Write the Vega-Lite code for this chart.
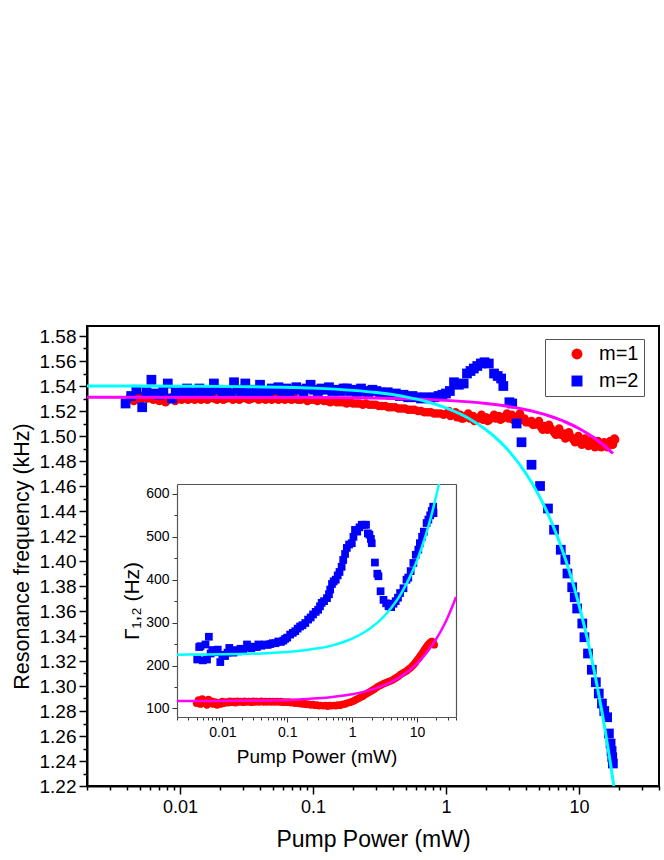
{
  "$schema": "https://vega.github.io/schema/vega-lite/v6.json",
  "width": 572,
  "height": 460,
  "autosize": "none",
  "padding": {"left": 87, "top": 326, "right": 5, "bottom": 74},
  "background": "white",
  "config": {
    "font": "Liberation Sans",
    "view": {"stroke": "#000000", "strokeWidth": 2},
    "axis": {"labelFont": "Liberation Sans", "titleFont": "Liberation Sans", "labelColor": "#000000", "titleColor": "#000000", "grid": false, "titleFontWeight": "normal"}
  },
  "datasets": {
    "main_pts": [
      {"x":0.0042,"y":1.531,"mode":"m=1"},{"x":0.0045,"y":1.528,"mode":"m=1"},{"x":0.0048,"y":1.532,"mode":"m=1"},{"x":0.0051,"y":1.529,"mode":"m=1"},{"x":0.0054,"y":1.533,"mode":"m=1"},{"x":0.0057,"y":1.53,"mode":"m=1"},{"x":0.006,"y":1.534,"mode":"m=1"},{"x":0.0063,"y":1.529,"mode":"m=1"},{"x":0.0066,"y":1.532,"mode":"m=1"},{"x":0.007,"y":1.528,"mode":"m=1"},{"x":0.0074,"y":1.53,"mode":"m=1"},{"x":0.0078,"y":1.527,"mode":"m=1"},{"x":0.0082,"y":1.529,"mode":"m=1"},{"x":0.0087,"y":1.531,"mode":"m=1"},{"x":0.0092,"y":1.528,"mode":"m=1"},{"x":0.0097,"y":1.53,"mode":"m=1"},{"x":0.0103,"y":1.529,"mode":"m=1"},{"x":0.0109,"y":1.531,"mode":"m=1"},{"x":0.0115,"y":1.529,"mode":"m=1"},{"x":0.0122,"y":1.53,"mode":"m=1"},{"x":0.0129,"y":1.529,"mode":"m=1"},{"x":0.0136,"y":1.531,"mode":"m=1"},{"x":0.0144,"y":1.529,"mode":"m=1"},{"x":0.0152,"y":1.53,"mode":"m=1"},{"x":0.0161,"y":1.529,"mode":"m=1"},{"x":0.017,"y":1.531,"mode":"m=1"},{"x":0.018,"y":1.53,"mode":"m=1"},{"x":0.019,"y":1.529,"mode":"m=1"},{"x":0.02,"y":1.531,"mode":"m=1"},{"x":0.0212,"y":1.529,"mode":"m=1"},{"x":0.0224,"y":1.53,"mode":"m=1"},{"x":0.0237,"y":1.531,"mode":"m=1"},{"x":0.025,"y":1.529,"mode":"m=1"},{"x":0.0265,"y":1.53,"mode":"m=1"},{"x":0.028,"y":1.529,"mode":"m=1"},{"x":0.0296,"y":1.531,"mode":"m=1"},{"x":0.0313,"y":1.53,"mode":"m=1"},{"x":0.033,"y":1.529,"mode":"m=1"},{"x":0.035,"y":1.53,"mode":"m=1"},{"x":0.037,"y":1.531,"mode":"m=1"},{"x":0.039,"y":1.529,"mode":"m=1"},{"x":0.0415,"y":1.53,"mode":"m=1"},{"x":0.044,"y":1.529,"mode":"m=1"},{"x":0.0465,"y":1.53,"mode":"m=1"},{"x":0.049,"y":1.529,"mode":"m=1"},{"x":0.052,"y":1.531,"mode":"m=1"},{"x":0.055,"y":1.529,"mode":"m=1"},{"x":0.058,"y":1.53,"mode":"m=1"},{"x":0.0615,"y":1.529,"mode":"m=1"},{"x":0.065,"y":1.53,"mode":"m=1"},{"x":0.069,"y":1.529,"mode":"m=1"},{"x":0.073,"y":1.53,"mode":"m=1"},{"x":0.077,"y":1.529,"mode":"m=1"},{"x":0.0815,"y":1.529,"mode":"m=1"},{"x":0.086,"y":1.53,"mode":"m=1"},{"x":0.091,"y":1.528,"mode":"m=1"},{"x":0.096,"y":1.529,"mode":"m=1"},{"x":0.102,"y":1.529,"mode":"m=1"},{"x":0.108,"y":1.528,"mode":"m=1"},{"x":0.114,"y":1.529,"mode":"m=1"},{"x":0.121,"y":1.528,"mode":"m=1"},{"x":0.128,"y":1.528,"mode":"m=1"},{"x":0.135,"y":1.527,"mode":"m=1"},{"x":0.143,"y":1.528,"mode":"m=1"},{"x":0.151,"y":1.527,"mode":"m=1"},{"x":0.16,"y":1.527,"mode":"m=1"},{"x":0.169,"y":1.527,"mode":"m=1"},{"x":0.179,"y":1.526,"mode":"m=1"},{"x":0.19,"y":1.527,"mode":"m=1"},{"x":0.2,"y":1.526,"mode":"m=1"},{"x":0.212,"y":1.526,"mode":"m=1"},{"x":0.224,"y":1.526,"mode":"m=1"},{"x":0.237,"y":1.525,"mode":"m=1"},{"x":0.25,"y":1.526,"mode":"m=1"},{"x":0.265,"y":1.525,"mode":"m=1"},{"x":0.28,"y":1.525,"mode":"m=1"},{"x":0.296,"y":1.525,"mode":"m=1"},{"x":0.313,"y":1.524,"mode":"m=1"},{"x":0.33,"y":1.524,"mode":"m=1"},{"x":0.35,"y":1.524,"mode":"m=1"},{"x":0.37,"y":1.523,"mode":"m=1"},{"x":0.39,"y":1.523,"mode":"m=1"},{"x":0.415,"y":1.523,"mode":"m=1"},{"x":0.44,"y":1.522,"mode":"m=1"},{"x":0.465,"y":1.522,"mode":"m=1"},{"x":0.49,"y":1.522,"mode":"m=1"},{"x":0.52,"y":1.521,"mode":"m=1"},{"x":0.55,"y":1.521,"mode":"m=1"},{"x":0.58,"y":1.521,"mode":"m=1"},{"x":0.615,"y":1.52,"mode":"m=1"},{"x":0.65,"y":1.52,"mode":"m=1"},{"x":0.69,"y":1.519,"mode":"m=1"},{"x":0.73,"y":1.519,"mode":"m=1"},{"x":0.77,"y":1.519,"mode":"m=1"},{"x":0.815,"y":1.518,"mode":"m=1"},{"x":0.86,"y":1.518,"mode":"m=1"},{"x":0.91,"y":1.518,"mode":"m=1"},{"x":0.96,"y":1.517,"mode":"m=1"},{"x":1.02,"y":1.518,"mode":"m=1"},{"x":1.08,"y":1.516,"mode":"m=1"},{"x":1.14,"y":1.517,"mode":"m=1"},{"x":1.21,"y":1.515,"mode":"m=1"},{"x":1.28,"y":1.517,"mode":"m=1"},{"x":1.35,"y":1.514,"mode":"m=1"},{"x":1.43,"y":1.516,"mode":"m=1"},{"x":1.51,"y":1.514,"mode":"m=1"},{"x":1.6,"y":1.516,"mode":"m=1"},{"x":1.69,"y":1.513,"mode":"m=1"},{"x":1.79,"y":1.515,"mode":"m=1"},{"x":1.9,"y":1.513,"mode":"m=1"},{"x":2.0,"y":1.515,"mode":"m=1"},{"x":2.12,"y":1.513,"mode":"m=1"},{"x":2.24,"y":1.515,"mode":"m=1"},{"x":2.37,"y":1.514,"mode":"m=1"},{"x":2.5,"y":1.516,"mode":"m=1"},{"x":2.65,"y":1.514,"mode":"m=1"},{"x":2.8,"y":1.516,"mode":"m=1"},{"x":2.96,"y":1.514,"mode":"m=1"},{"x":3.13,"y":1.517,"mode":"m=1"},{"x":3.3,"y":1.515,"mode":"m=1"},{"x":3.5,"y":1.516,"mode":"m=1"},{"x":3.7,"y":1.513,"mode":"m=1"},{"x":3.9,"y":1.514,"mode":"m=1"},{"x":4.15,"y":1.511,"mode":"m=1"},{"x":4.4,"y":1.512,"mode":"m=1"},{"x":4.65,"y":1.509,"mode":"m=1"},{"x":4.9,"y":1.51,"mode":"m=1"},{"x":5.2,"y":1.507,"mode":"m=1"},{"x":5.5,"y":1.508,"mode":"m=1"},{"x":5.8,"y":1.505,"mode":"m=1"},{"x":6.15,"y":1.506,"mode":"m=1"},{"x":6.5,"y":1.503,"mode":"m=1"},{"x":6.9,"y":1.504,"mode":"m=1"},{"x":7.3,"y":1.501,"mode":"m=1"},{"x":7.7,"y":1.502,"mode":"m=1"},{"x":8.15,"y":1.499,"mode":"m=1"},{"x":8.6,"y":1.5,"mode":"m=1"},{"x":9.1,"y":1.497,"mode":"m=1"},{"x":9.6,"y":1.498,"mode":"m=1"},{"x":10.2,"y":1.495,"mode":"m=1"},{"x":10.8,"y":1.496,"mode":"m=1"},{"x":11.4,"y":1.494,"mode":"m=1"},{"x":12.1,"y":1.495,"mode":"m=1"},{"x":12.8,"y":1.493,"mode":"m=1"},{"x":13.5,"y":1.494,"mode":"m=1"},{"x":14.3,"y":1.492,"mode":"m=1"},{"x":15.1,"y":1.493,"mode":"m=1"},{"x":16,"y":1.492,"mode":"m=1"},{"x":16.9,"y":1.494,"mode":"m=1"},{"x":17.5,"y":1.494,"mode":"m=1"},{"x":18.3,"y":1.496,"mode":"m=1"},{"x":18.7,"y":1.497,"mode":"m=1"},
      {"x":1.05,"y":1.52,"mode":"m=1"},{"x":1.18,"y":1.519,"mode":"m=1"},{"x":1.31,"y":1.514,"mode":"m=1"},{"x":1.47,"y":1.518,"mode":"m=1"},{"x":1.64,"y":1.512,"mode":"m=1"},{"x":1.85,"y":1.517,"mode":"m=1"},{"x":2.06,"y":1.512,"mode":"m=1"},{"x":2.3,"y":1.517,"mode":"m=1"},{"x":2.57,"y":1.513,"mode":"m=1"},{"x":2.88,"y":1.518,"mode":"m=1"},{"x":3.2,"y":1.513,"mode":"m=1"},{"x":3.6,"y":1.518,"mode":"m=1"},{"x":4.0,"y":1.511,"mode":"m=1"},{"x":4.5,"y":1.509,"mode":"m=1"},{"x":5.0,"y":1.512,"mode":"m=1"},{"x":5.35,"y":1.505,"mode":"m=1"},{"x":5.95,"y":1.509,"mode":"m=1"},{"x":6.7,"y":1.501,"mode":"m=1"},{"x":7.1,"y":1.506,"mode":"m=1"},{"x":7.9,"y":1.498,"mode":"m=1"},{"x":8.4,"y":1.503,"mode":"m=1"},{"x":9.35,"y":1.495,"mode":"m=1"},{"x":9.9,"y":1.5,"mode":"m=1"},{"x":10.5,"y":1.493,"mode":"m=1"},{"x":11.1,"y":1.498,"mode":"m=1"},{"x":11.8,"y":1.492,"mode":"m=1"},{"x":12.5,"y":1.497,"mode":"m=1"},{"x":13.2,"y":1.491,"mode":"m=1"},{"x":13.9,"y":1.496,"mode":"m=1"},{"x":14.7,"y":1.491,"mode":"m=1"},{"x":15.5,"y":1.495,"mode":"m=1"},{"x":16.4,"y":1.491,"mode":"m=1"},{"x":17.2,"y":1.496,"mode":"m=1"},{"x":18.0,"y":1.493,"mode":"m=1"},{"x":18.5,"y":1.498,"mode":"m=1"},
      {"x":0.0039,"y":1.526,"mode":"m=2"},{"x":0.0043,"y":1.532,"mode":"m=2"},{"x":0.0047,"y":1.537,"mode":"m=2"},{"x":0.0052,"y":1.523,"mode":"m=2"},{"x":0.0056,"y":1.535,"mode":"m=2"},{"x":0.0061,"y":1.545,"mode":"m=2"},{"x":0.0065,"y":1.534,"mode":"m=2"},{"x":0.007,"y":1.533,"mode":"m=2"},{"x":0.0075,"y":1.536,"mode":"m=2"},{"x":0.0081,"y":1.542,"mode":"m=2"},{"x":0.0087,"y":1.53,"mode":"m=2"},{"x":0.0093,"y":1.535,"mode":"m=2"},{"x":0.01,"y":1.534,"mode":"m=2"},{"x":0.0107,"y":1.536,"mode":"m=2"},{"x":0.0113,"y":1.538,"mode":"m=2"},{"x":0.0121,"y":1.535,"mode":"m=2"},{"x":0.013,"y":1.534,"mode":"m=2"},{"x":0.014,"y":1.538,"mode":"m=2"},{"x":0.015,"y":1.536,"mode":"m=2"},{"x":0.016,"y":1.534,"mode":"m=2"},{"x":0.017,"y":1.536,"mode":"m=2"},{"x":0.018,"y":1.542,"mode":"m=2"},{"x":0.0195,"y":1.537,"mode":"m=2"},{"x":0.021,"y":1.535,"mode":"m=2"},{"x":0.0225,"y":1.536,"mode":"m=2"},{"x":0.024,"y":1.534,"mode":"m=2"},{"x":0.0255,"y":1.543,"mode":"m=2"},{"x":0.027,"y":1.537,"mode":"m=2"},{"x":0.029,"y":1.536,"mode":"m=2"},{"x":0.031,"y":1.542,"mode":"m=2"},{"x":0.033,"y":1.535,"mode":"m=2"},{"x":0.035,"y":1.537,"mode":"m=2"},{"x":0.0375,"y":1.536,"mode":"m=2"},{"x":0.04,"y":1.541,"mode":"m=2"},{"x":0.043,"y":1.536,"mode":"m=2"},{"x":0.046,"y":1.535,"mode":"m=2"},{"x":0.049,"y":1.538,"mode":"m=2"},{"x":0.052,"y":1.537,"mode":"m=2"},{"x":0.055,"y":1.539,"mode":"m=2"},{"x":0.059,"y":1.536,"mode":"m=2"},{"x":0.063,"y":1.538,"mode":"m=2"},{"x":0.067,"y":1.536,"mode":"m=2"},{"x":0.071,"y":1.537,"mode":"m=2"},{"x":0.075,"y":1.539,"mode":"m=2"},{"x":0.08,"y":1.537,"mode":"m=2"},{"x":0.085,"y":1.536,"mode":"m=2"},{"x":0.09,"y":1.538,"mode":"m=2"},{"x":0.096,"y":1.541,"mode":"m=2"},{"x":0.102,"y":1.537,"mode":"m=2"},{"x":0.109,"y":1.536,"mode":"m=2"},{"x":0.116,"y":1.538,"mode":"m=2"},{"x":0.124,"y":1.537,"mode":"m=2"},{"x":0.132,"y":1.539,"mode":"m=2"},{"x":0.14,"y":1.536,"mode":"m=2"},{"x":0.15,"y":1.537,"mode":"m=2"},{"x":0.16,"y":1.536,"mode":"m=2"},{"x":0.17,"y":1.538,"mode":"m=2"},{"x":0.18,"y":1.538,"mode":"m=2"},{"x":0.19,"y":1.536,"mode":"m=2"},{"x":0.2,"y":1.537,"mode":"m=2"},{"x":0.215,"y":1.535,"mode":"m=2"},{"x":0.23,"y":1.538,"mode":"m=2"},{"x":0.245,"y":1.536,"mode":"m=2"},{"x":0.26,"y":1.535,"mode":"m=2"},{"x":0.28,"y":1.537,"mode":"m=2"},{"x":0.3,"y":1.536,"mode":"m=2"},{"x":0.32,"y":1.535,"mode":"m=2"},{"x":0.34,"y":1.534,"mode":"m=2"},{"x":0.365,"y":1.535,"mode":"m=2"},{"x":0.39,"y":1.533,"mode":"m=2"},{"x":0.42,"y":1.534,"mode":"m=2"},{"x":0.45,"y":1.532,"mode":"m=2"},{"x":0.48,"y":1.533,"mode":"m=2"},{"x":0.52,"y":1.531,"mode":"m=2"},{"x":0.56,"y":1.532,"mode":"m=2"},{"x":0.6,"y":1.531,"mode":"m=2"},{"x":0.65,"y":1.53,"mode":"m=2"},{"x":0.7,"y":1.531,"mode":"m=2"},{"x":0.76,"y":1.53,"mode":"m=2"},{"x":0.82,"y":1.531,"mode":"m=2"},{"x":0.88,"y":1.532,"mode":"m=2"},{"x":0.94,"y":1.533,"mode":"m=2"},{"x":1.0,"y":1.534,"mode":"m=2"},{"x":1.07,"y":1.536,"mode":"m=2"},{"x":1.15,"y":1.543,"mode":"m=2"},{"x":1.25,"y":1.541,"mode":"m=2"},{"x":1.36,"y":1.542,"mode":"m=2"},{"x":1.44,"y":1.55,"mode":"m=2"},{"x":1.53,"y":1.552,"mode":"m=2"},{"x":1.62,"y":1.554,"mode":"m=2"},{"x":1.72,"y":1.556,"mode":"m=2"},{"x":1.83,"y":1.558,"mode":"m=2"},{"x":1.95,"y":1.559,"mode":"m=2"},{"x":2.1,"y":1.558,"mode":"m=2"},{"x":2.3,"y":1.55,"mode":"m=2"},{"x":2.45,"y":1.548,"mode":"m=2"},{"x":2.6,"y":1.546,"mode":"m=2"},{"x":2.7,"y":1.54,"mode":"m=2"},{"x":3.0,"y":1.527,"mode":"m=2"},{"x":3.15,"y":1.526,"mode":"m=2"},{"x":3.4,"y":1.51,"mode":"m=2"},{"x":3.7,"y":1.495,"mode":"m=2"},{"x":4.4,"y":1.477,"mode":"m=2"},{"x":5.1,"y":1.46,"mode":"m=2"},{"x":5.85,"y":1.442,"mode":"m=2"},{"x":6.5,"y":1.425,"mode":"m=2"},{"x":7.3,"y":1.409,"mode":"m=2"},{"x":7.9,"y":1.401,"mode":"m=2"},{"x":8.2,"y":1.39,"mode":"m=2"},{"x":8.9,"y":1.379,"mode":"m=2"},{"x":9.3,"y":1.371,"mode":"m=2"},{"x":9.7,"y":1.362,"mode":"m=2"},{"x":10.6,"y":1.35,"mode":"m=2"},{"x":11.0,"y":1.339,"mode":"m=2"},{"x":11.7,"y":1.326,"mode":"m=2"},{"x":12.5,"y":1.313,"mode":"m=2"},{"x":13.4,"y":1.303,"mode":"m=2"},{"x":14.1,"y":1.294,"mode":"m=2"},{"x":14.9,"y":1.286,"mode":"m=2"},{"x":15.5,"y":1.28,"mode":"m=2"},{"x":16.3,"y":1.275,"mode":"m=2"},{"x":16.8,"y":1.262,"mode":"m=2"},{"x":17.3,"y":1.254,"mode":"m=2"},{"x":17.6,"y":1.248,"mode":"m=2"},{"x":17.8,"y":1.243,"mode":"m=2"},{"x":18.0,"y":1.238,"mode":"m=2"}
    ],
    "main_fit_m1": [
      {"x":0.002,"y":1.531},{"x":0.1,"y":1.5308},{"x":0.5,"y":1.5298},{"x":1,"y":1.5285},{"x":2,"y":1.526},{"x":3,"y":1.5235},{"x":4,"y":1.521},{"x":5,"y":1.5185},{"x":6,"y":1.516},{"x":7,"y":1.5135},{"x":8,"y":1.511},{"x":10,"y":1.506},{"x":12,"y":1.501},{"x":14,"y":1.496},{"x":16,"y":1.491},{"x":18,"y":1.486}
    ],
    "main_fit_m2": [
      {"x":0.002,"y":1.54},{"x":0.01,"y":1.5398},{"x":0.03,"y":1.5395},{"x":0.1,"y":1.5383},{"x":0.2,"y":1.5365},{"x":0.3,"y":1.5348},{"x":0.5,"y":1.5313},{"x":0.7,"y":1.5278},{"x":1,"y":1.5225},{"x":1.5,"y":1.5138},{"x":2,"y":1.505},{"x":2.5,"y":1.4963},{"x":3,"y":1.4875},{"x":4,"y":1.47},{"x":5,"y":1.4525},{"x":6,"y":1.435},{"x":7,"y":1.4175},{"x":8,"y":1.4},{"x":9,"y":1.3825},{"x":10,"y":1.365},{"x":11,"y":1.3475},{"x":12,"y":1.33},{"x":13,"y":1.3125},{"x":14,"y":1.295},{"x":15,"y":1.2775},{"x":16,"y":1.26},{"x":17,"y":1.2425},{"x":18,"y":1.225},{"x":18.3,"y":1.22}
    ],
    "inset_pts": [
      {"x":0.004,"y":112,"mode":"m=1"},{"x":0.0043,"y":120,"mode":"m=1"},{"x":0.0046,"y":110,"mode":"m=1"},{"x":0.0049,"y":122,"mode":"m=1"},{"x":0.0052,"y":113,"mode":"m=1"},{"x":0.0055,"y":118,"mode":"m=1"},{"x":0.0058,"y":108,"mode":"m=1"},{"x":0.0061,"y":121,"mode":"m=1"},{"x":0.0065,"y":112,"mode":"m=1"},{"x":0.0069,"y":117,"mode":"m=1"},{"x":0.0073,"y":110,"mode":"m=1"},{"x":0.0078,"y":115,"mode":"m=1"},{"x":0.0083,"y":108,"mode":"m=1"},{"x":0.0088,"y":113,"mode":"m=1"},{"x":0.0094,"y":110,"mode":"m=1"},{"x":0.01,"y":116,"mode":"m=1"},{"x":0.0107,"y":112,"mode":"m=1"},{"x":0.0115,"y":115,"mode":"m=1"},{"x":0.0123,"y":113,"mode":"m=1"},{"x":0.0131,"y":117,"mode":"m=1"},{"x":0.014,"y":114,"mode":"m=1"},{"x":0.015,"y":116,"mode":"m=1"},{"x":0.016,"y":113,"mode":"m=1"},{"x":0.017,"y":117,"mode":"m=1"},{"x":0.018,"y":115,"mode":"m=1"},{"x":0.019,"y":116,"mode":"m=1"},{"x":0.021,"y":114,"mode":"m=1"},{"x":0.022,"y":117,"mode":"m=1"},{"x":0.024,"y":115,"mode":"m=1"},{"x":0.026,"y":116,"mode":"m=1"},{"x":0.028,"y":114,"mode":"m=1"},{"x":0.03,"y":117,"mode":"m=1"},{"x":0.032,"y":115,"mode":"m=1"},{"x":0.034,"y":116,"mode":"m=1"},{"x":0.037,"y":115,"mode":"m=1"},{"x":0.04,"y":117,"mode":"m=1"},{"x":0.043,"y":115,"mode":"m=1"},{"x":0.046,"y":116,"mode":"m=1"},{"x":0.049,"y":115,"mode":"m=1"},{"x":0.053,"y":116,"mode":"m=1"},{"x":0.057,"y":115,"mode":"m=1"},{"x":0.061,"y":116,"mode":"m=1"},{"x":0.065,"y":115,"mode":"m=1"},{"x":0.07,"y":116,"mode":"m=1"},{"x":0.075,"y":115,"mode":"m=1"},{"x":0.08,"y":116,"mode":"m=1"},{"x":0.086,"y":114,"mode":"m=1"},{"x":0.092,"y":115,"mode":"m=1"},{"x":0.099,"y":114,"mode":"m=1"},{"x":0.106,"y":115,"mode":"m=1"},{"x":0.114,"y":113,"mode":"m=1"},{"x":0.122,"y":114,"mode":"m=1"},{"x":0.131,"y":112,"mode":"m=1"},{"x":0.14,"y":113,"mode":"m=1"},{"x":0.15,"y":112,"mode":"m=1"},{"x":0.16,"y":111,"mode":"m=1"},{"x":0.17,"y":112,"mode":"m=1"},{"x":0.18,"y":110,"mode":"m=1"},{"x":0.19,"y":111,"mode":"m=1"},{"x":0.2,"y":109,"mode":"m=1"},{"x":0.215,"y":110,"mode":"m=1"},{"x":0.23,"y":108,"mode":"m=1"},{"x":0.25,"y":109,"mode":"m=1"},{"x":0.27,"y":107,"mode":"m=1"},{"x":0.29,"y":108,"mode":"m=1"},{"x":0.31,"y":106,"mode":"m=1"},{"x":0.33,"y":107,"mode":"m=1"},{"x":0.36,"y":106,"mode":"m=1"},{"x":0.39,"y":107,"mode":"m=1"},{"x":0.42,"y":105,"mode":"m=1"},{"x":0.45,"y":107,"mode":"m=1"},{"x":0.48,"y":106,"mode":"m=1"},{"x":0.52,"y":107,"mode":"m=1"},{"x":0.56,"y":106,"mode":"m=1"},{"x":0.6,"y":108,"mode":"m=1"},{"x":0.65,"y":107,"mode":"m=1"},{"x":0.7,"y":109,"mode":"m=1"},{"x":0.75,"y":110,"mode":"m=1"},{"x":0.8,"y":111,"mode":"m=1"},{"x":0.86,"y":113,"mode":"m=1"},{"x":0.93,"y":114,"mode":"m=1"},{"x":1.0,"y":116,"mode":"m=1"},{"x":1.08,"y":118,"mode":"m=1"},{"x":1.16,"y":121,"mode":"m=1"},{"x":1.25,"y":123,"mode":"m=1"},{"x":1.35,"y":126,"mode":"m=1"},{"x":1.45,"y":128,"mode":"m=1"},{"x":1.55,"y":131,"mode":"m=1"},{"x":1.67,"y":134,"mode":"m=1"},{"x":1.8,"y":137,"mode":"m=1"},{"x":1.95,"y":140,"mode":"m=1"},{"x":2.1,"y":143,"mode":"m=1"},{"x":2.25,"y":146,"mode":"m=1"},{"x":2.45,"y":150,"mode":"m=1"},{"x":2.65,"y":153,"mode":"m=1"},{"x":2.85,"y":155,"mode":"m=1"},{"x":3.1,"y":158,"mode":"m=1"},{"x":3.35,"y":160,"mode":"m=1"},{"x":3.6,"y":162,"mode":"m=1"},{"x":3.9,"y":164,"mode":"m=1"},{"x":4.2,"y":166,"mode":"m=1"},{"x":4.5,"y":169,"mode":"m=1"},{"x":4.85,"y":172,"mode":"m=1"},{"x":5.2,"y":175,"mode":"m=1"},{"x":5.6,"y":179,"mode":"m=1"},{"x":6.0,"y":182,"mode":"m=1"},{"x":6.5,"y":185,"mode":"m=1"},{"x":7.0,"y":188,"mode":"m=1"},{"x":7.5,"y":192,"mode":"m=1"},{"x":8.0,"y":195,"mode":"m=1"},{"x":8.5,"y":199,"mode":"m=1"},{"x":9.0,"y":203,"mode":"m=1"},{"x":9.5,"y":207,"mode":"m=1"},{"x":10.0,"y":212,"mode":"m=1"},{"x":10.5,"y":216,"mode":"m=1"},{"x":11.0,"y":220,"mode":"m=1"},{"x":11.5,"y":224,"mode":"m=1"},{"x":12.0,"y":228,"mode":"m=1"},{"x":12.5,"y":232,"mode":"m=1"},{"x":13.0,"y":236,"mode":"m=1"},{"x":13.5,"y":240,"mode":"m=1"},{"x":14.0,"y":243,"mode":"m=1"},{"x":14.5,"y":246,"mode":"m=1"},{"x":15.0,"y":249,"mode":"m=1"},{"x":15.5,"y":251,"mode":"m=1"},{"x":16.0,"y":253,"mode":"m=1"},{"x":16.5,"y":255,"mode":"m=1"},{"x":17.0,"y":256,"mode":"m=1"},{"x":17.5,"y":254,"mode":"m=1"},{"x":18.0,"y":252,"mode":"m=1"},{"x":18.5,"y":248,"mode":"m=1"},
      {"x":0.0041,"y":214,"mode":"m=2"},{"x":0.0044,"y":243,"mode":"m=2"},{"x":0.0046,"y":245,"mode":"m=2"},{"x":0.005,"y":212,"mode":"m=2"},{"x":0.0055,"y":249,"mode":"m=2"},{"x":0.0058,"y":214,"mode":"m=2"},{"x":0.0062,"y":267,"mode":"m=2"},{"x":0.0066,"y":228,"mode":"m=2"},{"x":0.007,"y":236,"mode":"m=2"},{"x":0.0075,"y":233,"mode":"m=2"},{"x":0.008,"y":231,"mode":"m=2"},{"x":0.0085,"y":237,"mode":"m=2"},{"x":0.0093,"y":208,"mode":"m=2"},{"x":0.01,"y":225,"mode":"m=2"},{"x":0.011,"y":222,"mode":"m=2"},{"x":0.012,"y":230,"mode":"m=2"},{"x":0.0128,"y":241,"mode":"m=2"},{"x":0.0138,"y":232,"mode":"m=2"},{"x":0.0148,"y":230,"mode":"m=2"},{"x":0.016,"y":236,"mode":"m=2"},{"x":0.0175,"y":233,"mode":"m=2"},{"x":0.019,"y":239,"mode":"m=2"},{"x":0.021,"y":236,"mode":"m=2"},{"x":0.024,"y":249,"mode":"m=2"},{"x":0.026,"y":242,"mode":"m=2"},{"x":0.028,"y":240,"mode":"m=2"},{"x":0.031,"y":244,"mode":"m=2"},{"x":0.034,"y":243,"mode":"m=2"},{"x":0.036,"y":249,"mode":"m=2"},{"x":0.04,"y":246,"mode":"m=2"},{"x":0.045,"y":249,"mode":"m=2"},{"x":0.05,"y":248,"mode":"m=2"},{"x":0.055,"y":250,"mode":"m=2"},{"x":0.06,"y":252,"mode":"m=2"},{"x":0.066,"y":252,"mode":"m=2"},{"x":0.073,"y":256,"mode":"m=2"},{"x":0.08,"y":255,"mode":"m=2"},{"x":0.087,"y":258,"mode":"m=2"},{"x":0.093,"y":262,"mode":"m=2"},{"x":0.1,"y":265,"mode":"m=2"},{"x":0.111,"y":272,"mode":"m=2"},{"x":0.122,"y":276,"mode":"m=2"},{"x":0.133,"y":280,"mode":"m=2"},{"x":0.145,"y":286,"mode":"m=2"},{"x":0.158,"y":291,"mode":"m=2"},{"x":0.172,"y":294,"mode":"m=2"},{"x":0.19,"y":299,"mode":"m=2"},{"x":0.21,"y":307,"mode":"m=2"},{"x":0.23,"y":312,"mode":"m=2"},{"x":0.25,"y":319,"mode":"m=2"},{"x":0.275,"y":325,"mode":"m=2"},{"x":0.3,"y":330,"mode":"m=2"},{"x":0.32,"y":338,"mode":"m=2"},{"x":0.34,"y":346,"mode":"m=2"},{"x":0.37,"y":350,"mode":"m=2"},{"x":0.41,"y":357,"mode":"m=2"},{"x":0.44,"y":366,"mode":"m=2"},{"x":0.46,"y":377,"mode":"m=2"},{"x":0.49,"y":390,"mode":"m=2"},{"x":0.52,"y":396,"mode":"m=2"},{"x":0.56,"y":400,"mode":"m=2"},{"x":0.6,"y":410,"mode":"m=2"},{"x":0.64,"y":418,"mode":"m=2"},{"x":0.69,"y":430,"mode":"m=2"},{"x":0.73,"y":446,"mode":"m=2"},{"x":0.78,"y":460,"mode":"m=2"},{"x":0.83,"y":474,"mode":"m=2"},{"x":0.9,"y":482,"mode":"m=2"},{"x":0.99,"y":485,"mode":"m=2"},{"x":1.05,"y":500,"mode":"m=2"},{"x":1.11,"y":516,"mode":"m=2"},{"x":1.2,"y":512,"mode":"m=2"},{"x":1.3,"y":522,"mode":"m=2"},{"x":1.41,"y":528,"mode":"m=2"},{"x":1.55,"y":528,"mode":"m=2"},{"x":1.64,"y":528,"mode":"m=2"},{"x":1.75,"y":508,"mode":"m=2"},{"x":1.85,"y":505,"mode":"m=2"},{"x":1.95,"y":495,"mode":"m=2"},{"x":2.01,"y":485,"mode":"m=2"},{"x":2.25,"y":440,"mode":"m=2"},{"x":2.45,"y":414,"mode":"m=2"},{"x":2.55,"y":408,"mode":"m=2"},{"x":2.75,"y":373,"mode":"m=2"},{"x":3.05,"y":353,"mode":"m=2"},{"x":3.35,"y":345,"mode":"m=2"},{"x":3.65,"y":338,"mode":"m=2"},{"x":4.0,"y":336,"mode":"m=2"},{"x":4.35,"y":344,"mode":"m=2"},{"x":4.7,"y":350,"mode":"m=2"},{"x":5.1,"y":358,"mode":"m=2"},{"x":5.5,"y":369,"mode":"m=2"},{"x":6.2,"y":380,"mode":"m=2"},{"x":6.9,"y":400,"mode":"m=2"},{"x":7.35,"y":405,"mode":"m=2"},{"x":8.0,"y":420,"mode":"m=2"},{"x":8.8,"y":439,"mode":"m=2"},{"x":9.6,"y":458,"mode":"m=2"},{"x":10.5,"y":470,"mode":"m=2"},{"x":11.1,"y":485,"mode":"m=2"},{"x":12.0,"y":500,"mode":"m=2"},{"x":12.8,"y":512,"mode":"m=2"},{"x":14.1,"y":532,"mode":"m=2"},{"x":15.0,"y":540,"mode":"m=2"},{"x":16.0,"y":550,"mode":"m=2"},{"x":16.9,"y":560,"mode":"m=2"},{"x":17.8,"y":570,"mode":"m=2"},{"x":18.0,"y":555,"mode":"m=2"}
    ],
    "inset_fit_m1": [
      {"x":0.002,"y":117.2},{"x":0.01,"y":117.5},{"x":0.03,"y":118.2},{"x":0.1,"y":119.9},{"x":0.2,"y":121.9},{"x":0.3,"y":123.6},{"x":0.5,"y":126.6},{"x":0.7,"y":129.3},{"x":1,"y":133},{"x":1.5,"y":138.6},{"x":2,"y":143.7},{"x":3,"y":153},{"x":4,"y":161.4},{"x":5,"y":169.4},{"x":6,"y":177},{"x":8,"y":191},{"x":10,"y":204.3},{"x":12,"y":216.9},{"x":15,"y":234.7},{"x":20,"y":262.6},{"x":25,"y":288.5},{"x":30,"y":313.3},{"x":35,"y":336.8},{"x":40,"y":359.6}
    ],
    "inset_fit_m2": [
      {"x":0.002,"y":225.3},{"x":0.005,"y":225.7},{"x":0.01,"y":226.1},{"x":0.02,"y":226.9},{"x":0.05,"y":228.8},{"x":0.1,"y":231.5},{"x":0.2,"y":236},{"x":0.3,"y":240},{"x":0.5,"y":247},{"x":0.7,"y":253.7},{"x":1,"y":262.7},{"x":1.5,"y":276.4},{"x":2,"y":289},{"x":3,"y":312.4},{"x":4,"y":333.8},{"x":5,"y":354},{"x":6,"y":373.5},{"x":8,"y":410},{"x":10,"y":444.4},{"x":12,"y":477.3},{"x":14,"y":508.9},{"x":16,"y":539.4},{"x":18,"y":569},{"x":20,"y":598},{"x":21.8,"y":623}
    ]
  },
  "layer": [
    {
      "encoding": {
        "x": {
          "field": "x", "type": "quantitative",
          "scale": {"type": "log", "domain": [0.002, 40], "nice": false},
          "axis": {
            "orient": "bottom",
            "values": [0.002,0.003,0.004,0.005,0.006,0.007,0.008,0.009,0.01,0.02,0.03,0.04,0.05,0.06,0.07,0.08,0.09,0.1,0.2,0.3,0.4,0.5,0.6,0.7,0.8,0.9,1,2,3,4,5,6,7,8,9,10,20,30,40],
            "format": "~g",
            "labelExpr": "abs(log(datum.value)/LN10 - round(log(datum.value)/LN10)) < 0.001 ? datum.label : ''",
            "labelOverlap": false, "labelFlush": false,
            "labelFontSize": 18, "labelPadding": 4,
            "tickSize": {"condition": {"test": "abs(log(datum.value)/LN10 - round(log(datum.value)/LN10)) < 0.001", "value": 8}, "value": 4},
            "tickWidth": 1.5, "tickColor": "#000000",
            "domainColor": "#000000", "domainWidth": 2,
            "title": "Pump Power (mW)", "titleFontSize": 23, "titlePadding": 12
          }
        },
        "y": {
          "field": "y", "type": "quantitative",
          "scale": {"domain": [1.22, 1.588], "nice": false, "zero": false},
          "axis": {
            "orient": "left",
            "values": [1.22,1.23,1.24,1.25,1.26,1.27,1.28,1.29,1.3,1.31,1.32,1.33,1.34,1.35,1.36,1.37,1.38,1.39,1.4,1.41,1.42,1.43,1.44,1.45,1.46,1.47,1.48,1.49,1.5,1.51,1.52,1.53,1.54,1.55,1.56,1.57,1.58],
            "labelExpr": "round(datum.value*100) % 2 == 0 ? format(datum.value, '.2f') : ''",
            "labelOverlap": false, "labelFlush": false,
            "labelFontSize": 19, "labelPadding": 3,
            "tickSize": {"condition": {"test": "round(datum.value*100) % 2 == 0", "value": 8}, "value": 4},
            "tickWidth": 1.5, "tickColor": "#000000",
            "domainColor": "#000000", "domainWidth": 2,
            "title": "Resonance frequency (kHz)", "titleFontSize": 21.5, "titlePadding": 6
          }
        }
      },
      "layer": [
        {
          "data": {"name": "main_pts"},
          "transform": [{"filter": "datum.mode == 'm=1'"}],
          "mark": {"type": "point", "filled": true, "size": 75, "opacity": 1, "strokeWidth": 0},
          "encoding": {
            "color": {"field": "mode", "type": "nominal", "scale": {"domain": ["m=1", "m=2"], "range": ["#ff0000", "#0000ff"]},
              "legend": {"title": null, "orient": "none", "legendX": 458, "legendY": 13, "padding": 5, "strokeColor": "#555555", "fillColor": "#ffffff", "labelFontSize": 20, "labelFont": "Liberation Sans", "labelColor": "#000000", "symbolSize": 120, "symbolOffset": 17, "labelOffset": 12, "rowPadding": 7, "symbolOpacity": 1, "symbolStrokeWidth": 0}},
            "shape": {"field": "mode", "type": "nominal", "scale": {"domain": ["m=1", "m=2"], "range": ["circle", "square"]},
              "legend": {"title": null, "orient": "none", "legendX": 458, "legendY": 13, "padding": 5, "strokeColor": "#555555", "fillColor": "#ffffff", "labelFontSize": 20, "labelFont": "Liberation Sans", "labelColor": "#000000", "symbolSize": 120, "symbolOffset": 17, "labelOffset": 12, "rowPadding": 7, "symbolOpacity": 1, "symbolStrokeWidth": 0}}
          }
        },
        {
          "data": {"name": "main_pts"},
          "transform": [{"filter": "datum.mode == 'm=2'"}],
          "mark": {"type": "point", "filled": true, "size": 95, "opacity": 1, "strokeWidth": 0},
          "encoding": {
            "color": {"field": "mode", "type": "nominal", "scale": {"domain": ["m=1", "m=2"], "range": ["#ff0000", "#0000ff"]},
              "legend": {"title": null, "orient": "none", "legendX": 458, "legendY": 13, "padding": 5, "strokeColor": "#555555", "fillColor": "#ffffff", "labelFontSize": 20, "labelFont": "Liberation Sans", "labelColor": "#000000", "symbolSize": 120, "symbolOffset": 17, "labelOffset": 12, "rowPadding": 7, "symbolOpacity": 1, "symbolStrokeWidth": 0}},
            "shape": {"field": "mode", "type": "nominal", "scale": {"domain": ["m=1", "m=2"], "range": ["circle", "square"]},
              "legend": {"title": null, "orient": "none", "legendX": 458, "legendY": 13, "padding": 5, "strokeColor": "#555555", "fillColor": "#ffffff", "labelFontSize": 20, "labelFont": "Liberation Sans", "labelColor": "#000000", "symbolSize": 120, "symbolOffset": 17, "labelOffset": 12, "rowPadding": 7, "symbolOpacity": 1, "symbolStrokeWidth": 0}}
          }
        },
        {
          "data": {"name": "main_fit_m1"},
          "mark": {"type": "line", "color": "#ff00ff", "strokeWidth": 3, "interpolate": "monotone"},
          "encoding": {}
        },
        {
          "data": {"name": "main_fit_m2"},
          "mark": {"type": "line", "color": "#00ffff", "strokeWidth": 3, "interpolate": "monotone"},
          "encoding": {}
        }
      ]
    },
    {
      "layer": [
        {
          "encoding": {
            "x": {
              "field": "x", "type": "quantitative",
              "scale": {"type": "log", "domain": [0.002, 40], "range": [90, 369], "nice": false},
              "axis": {
                "orient": "bottom", "offset": -69,
                "values": [0.002,0.003,0.004,0.005,0.006,0.007,0.008,0.009,0.01,0.02,0.03,0.04,0.05,0.06,0.07,0.08,0.09,0.1,0.2,0.3,0.4,0.5,0.6,0.7,0.8,0.9,1,2,3,4,5,6,7,8,9,10,20,30,40],
                "format": "~g",
                "labelExpr": "abs(log(datum.value)/LN10 - round(log(datum.value)/LN10)) < 0.001 ? datum.label : ''",
                "labelOverlap": false, "labelFlush": false,
                "labelFontSize": 14, "labelPadding": 3,
                "tickSize": {"condition": {"test": "abs(log(datum.value)/LN10 - round(log(datum.value)/LN10)) < 0.001", "value": 5}, "value": 3},
                "tickWidth": 1, "tickColor": "#333333",
                "domainColor": "#555555", "domainWidth": 1.2,
                "title": "Pump Power (mW)", "titleFontSize": 19, "titlePadding": 8
              }
            },
            "y": {
              "field": "y", "type": "quantitative",
              "scale": {"domain": [80, 623], "range": [391, 158], "nice": false, "zero": false},
              "axis": {
                "orient": "left", "offset": -90,
                "values": [100,150,200,250,300,350,400,450,500,550,600],
                "labelExpr": "datum.value % 100 == 0 ? datum.label : ''",
                "labelOverlap": false, "labelFlush": false,
                "labelFontSize": 14, "labelPadding": 3,
                "tickSize": {"condition": {"test": "datum.value % 100 == 0", "value": 5}, "value": 3},
                "tickWidth": 1, "tickColor": "#333333",
                "domainColor": "#555555", "domainWidth": 1.2,
                "title": "Γ₁,₂ (Hz)", "titleFontSize": 21, "titlePadding": 3
              }
            }
          },
          "layer": [
            {
              "data": {"name": "inset_pts"},
              "transform": [{"filter": "datum.mode == 'm=1'"}],
              "mark": {"type": "point", "filled": true, "size": 55, "opacity": 1, "strokeWidth": 0},
              "encoding": {
                "color": {"field": "mode", "type": "nominal", "scale": {"domain": ["m=1", "m=2"], "range": ["#ff0000", "#0000ff"]},
                  "legend": {"title": null, "orient": "none", "legendX": 458, "legendY": 13, "padding": 5, "strokeColor": "#555555", "fillColor": "#ffffff", "labelFontSize": 20, "labelFont": "Liberation Sans", "labelColor": "#000000", "symbolSize": 120, "symbolOffset": 17, "labelOffset": 12, "rowPadding": 7, "symbolOpacity": 1, "symbolStrokeWidth": 0}},
                "shape": {"field": "mode", "type": "nominal", "scale": {"domain": ["m=1", "m=2"], "range": ["circle", "square"]},
                  "legend": {"title": null, "orient": "none", "legendX": 458, "legendY": 13, "padding": 5, "strokeColor": "#555555", "fillColor": "#ffffff", "labelFontSize": 20, "labelFont": "Liberation Sans", "labelColor": "#000000", "symbolSize": 120, "symbolOffset": 17, "labelOffset": 12, "rowPadding": 7, "symbolOpacity": 1, "symbolStrokeWidth": 0}}
              }
            },
            {
              "data": {"name": "inset_pts"},
              "transform": [{"filter": "datum.mode == 'm=2'"}],
              "mark": {"type": "point", "filled": true, "size": 60, "opacity": 1, "strokeWidth": 0},
              "encoding": {
                "color": {"field": "mode", "type": "nominal", "scale": {"domain": ["m=1", "m=2"], "range": ["#ff0000", "#0000ff"]},
                  "legend": {"title": null, "orient": "none", "legendX": 458, "legendY": 13, "padding": 5, "strokeColor": "#555555", "fillColor": "#ffffff", "labelFontSize": 20, "labelFont": "Liberation Sans", "labelColor": "#000000", "symbolSize": 120, "symbolOffset": 17, "labelOffset": 12, "rowPadding": 7, "symbolOpacity": 1, "symbolStrokeWidth": 0}},
                "shape": {"field": "mode", "type": "nominal", "scale": {"domain": ["m=1", "m=2"], "range": ["circle", "square"]},
                  "legend": {"title": null, "orient": "none", "legendX": 458, "legendY": 13, "padding": 5, "strokeColor": "#555555", "fillColor": "#ffffff", "labelFontSize": 20, "labelFont": "Liberation Sans", "labelColor": "#000000", "symbolSize": 120, "symbolOffset": 17, "labelOffset": 12, "rowPadding": 7, "symbolOpacity": 1, "symbolStrokeWidth": 0}}
              }
            },
            {
              "data": {"name": "inset_fit_m1"},
              "mark": {"type": "line", "color": "#ff00ff", "strokeWidth": 2.5, "interpolate": "monotone"},
              "encoding": {}
            },
            {
              "data": {"name": "inset_fit_m2"},
              "mark": {"type": "line", "color": "#00ffff", "strokeWidth": 2.5, "interpolate": "monotone"},
              "encoding": {}
            }
          ]
        },
        {
          "data": {"name": "inset_fit_m1"},
          "mark": {"type": "line", "strokeOpacity": 0, "opacity": 0},
          "encoding": {
            "x": {
              "field": "x", "type": "quantitative",
              "scale": {"type": "log", "domain": [0.002, 40], "range": [90, 369], "nice": false},
              "axis": {"orient": "top", "offset": -158, "labels": false, "ticks": false, "domainColor": "#555555", "domainWidth": 1.2, "title": null}
            },
            "y": {
              "field": "y", "type": "quantitative",
              "scale": {"domain": [80, 623], "range": [391, 158], "nice": false, "zero": false},
              "axis": {"orient": "right", "offset": -203, "labels": false, "ticks": false, "domainColor": "#555555", "domainWidth": 1.2, "title": null}
            }
          }
        }
      ],
      "resolve": {"axis": {"x": "independent", "y": "independent"}}
    }
  ],
  "resolve": {
    "scale": {"x": "independent", "y": "independent"},
    "axis": {"x": "independent", "y": "independent"}
  }
}
